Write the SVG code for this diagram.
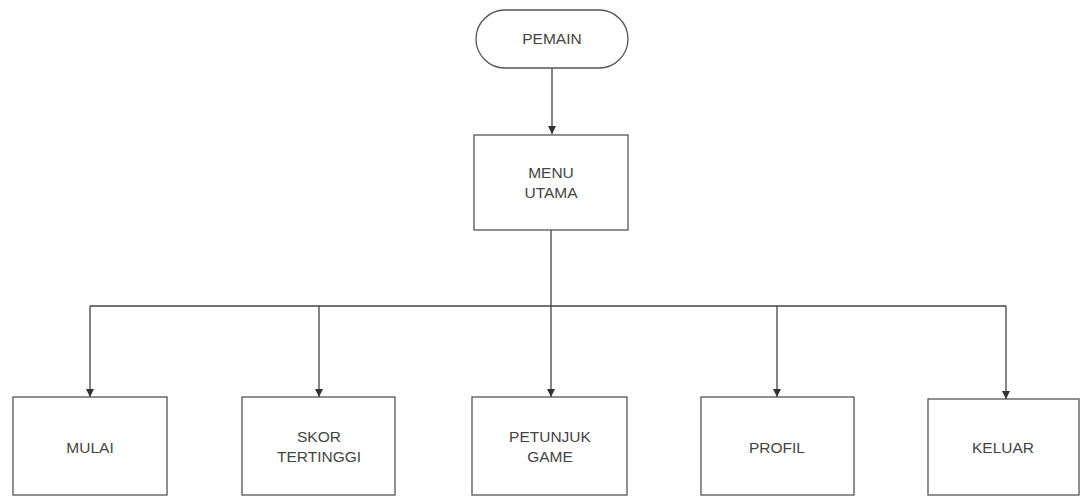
<svg xmlns="http://www.w3.org/2000/svg" width="1080" height="496" viewBox="0 0 1080 496">
<style>
.box{fill:none;stroke:#555;stroke-width:1.3}
.ln{fill:none;stroke:#444;stroke-width:1.3}
.t{font-family:"Liberation Sans",Arial,sans-serif;font-size:15.5px;fill:#444;text-anchor:middle}
</style>
<defs>
<marker id="ah" viewBox="0 0 10 10" refX="10" refY="5" markerWidth="8" markerHeight="8" markerUnits="userSpaceOnUse" orient="auto">
<path d="M0,0 L10,5 L0,10 Z" fill="#333"/>
</marker>
</defs>
<rect width="1080" height="496" fill="#fff"/>
<g id="connectors">
<line class="ln" x1="552" y1="68" x2="552" y2="134" marker-end="url(#ah)"/>
<line class="ln" x1="551" y1="230" x2="551" y2="306"/>
<line class="ln" x1="90" y1="306" x2="1006" y2="306"/>
<line class="ln" x1="90" y1="306" x2="90" y2="397" marker-end="url(#ah)"/>
<line class="ln" x1="319" y1="306" x2="319" y2="397" marker-end="url(#ah)"/>
<line class="ln" x1="551" y1="306" x2="551" y2="397" marker-end="url(#ah)"/>
<line class="ln" x1="777" y1="306" x2="777" y2="397" marker-end="url(#ah)"/>
<line class="ln" x1="1006" y1="306" x2="1006" y2="399" marker-end="url(#ah)"/>
</g>
<g id="pemain">
<rect class="box" x="476" y="10" width="152" height="58" rx="29" ry="29"/>
<text class="t" x="552" y="44">PEMAIN</text>
</g>
<g id="menu-utama">
<rect class="box" x="474" y="135" width="154" height="95"/>
<text class="t" x="551" y="178">MENU</text>
<text class="t" x="551" y="198">UTAMA</text>
</g>
<g id="mulai">
<rect class="box" x="13" y="397" width="154" height="98"/>
<text class="t" x="90" y="453">MULAI</text>
</g>
<g id="skor-tertinggi">
<rect class="box" x="242" y="397" width="153" height="98"/>
<text class="t" x="319" y="442">SKOR</text>
<text class="t" x="319" y="462">TERTINGGI</text>
</g>
<g id="petunjuk-game">
<rect class="box" x="472" y="397" width="155" height="98"/>
<text class="t" x="550" y="442">PETUNJUK</text>
<text class="t" x="550" y="462">GAME</text>
</g>
<g id="profil">
<rect class="box" x="701" y="397" width="153" height="98"/>
<text class="t" x="777" y="453">PROFIL</text>
</g>
<g id="keluar">
<rect class="box" x="928" y="399" width="151" height="96"/>
<text class="t" x="1003" y="453">KELUAR</text>
</g>
</svg>
